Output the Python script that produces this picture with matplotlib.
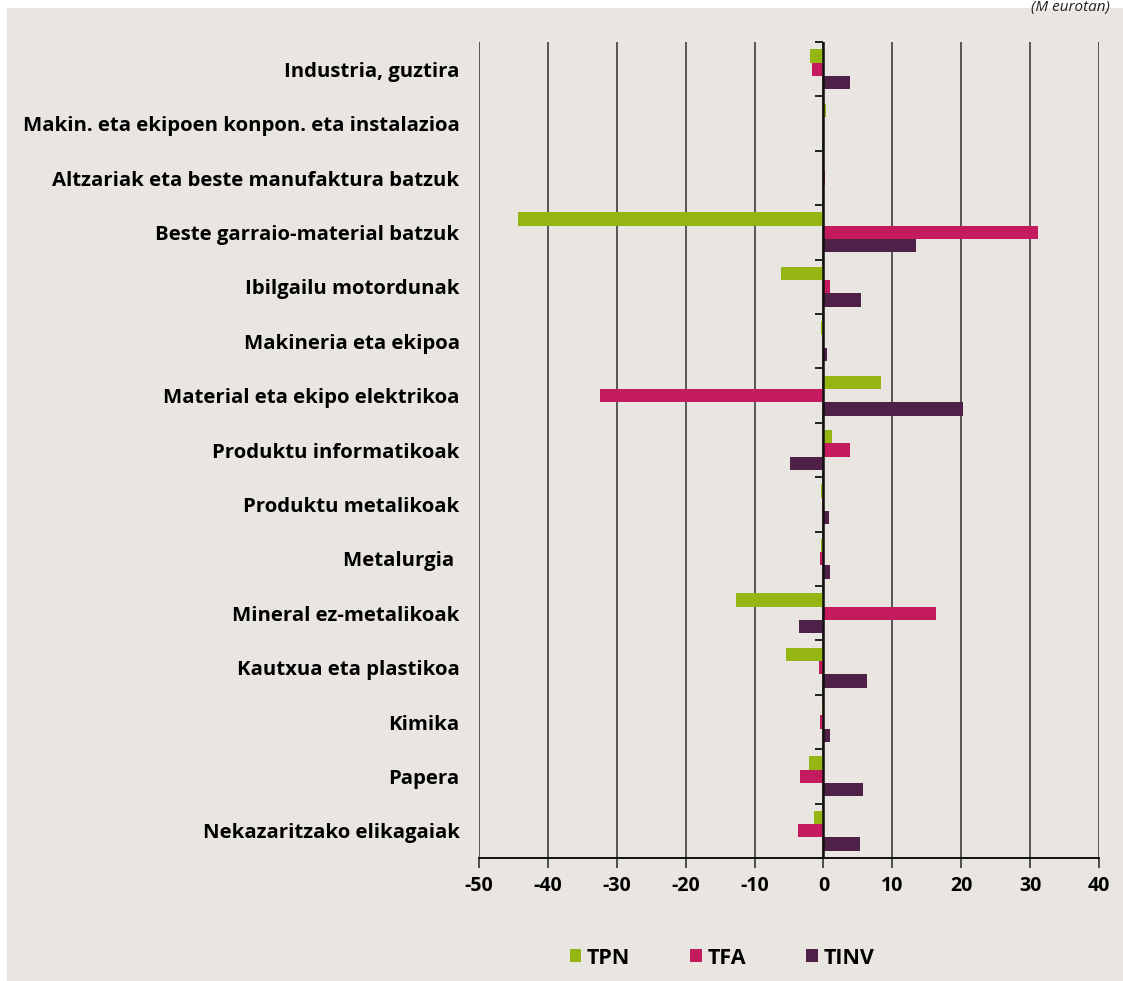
import numpy as np
import matplotlib

matplotlib.use('Agg')
import matplotlib.pyplot as plt
from matplotlib.patches import Patch

plt.rcParams['font.family'] = ['Open Sans', 'DejaVu Sans']

categories = [
    'Industria, guztira',
    'Makin. eta ekipoen konpon. eta instalazioa',
    'Altzariak eta beste manufaktura batzuk',
    'Beste garraio-material batzuk',
    'Ibilgailu motordunak',
    'Makineria eta ekipoa',
    'Material eta ekipo elektrikoa',
    'Produktu informatikoak',
    'Produktu metalikoak',
    'Metalurgia ',
    'Mineral ez-metalikoak',
    'Kautxua eta plastikoa',
    'Kimika',
    'Papera',
    'Nekazaritzako elikagaiak',
]
tpn = [-2.0, 0.3, 0.0, -44.4, -6.2, -0.3, 8.3, 1.3, -0.4, -0.35, -12.7, -5.4, -0.25, -2.1, -1.4]
tfa = [-1.6, 0.0, 0.2, 31.2, 1.0, 0.0, -32.4, 3.9, -0.2, -0.5, 16.4, -0.6, -0.5, -3.4, -3.7]
tinv = [3.9, 0.0, 0.0, 13.5, 5.4, 0.5, 20.2, -4.9, 0.8, 1.0, -3.5, 6.3, 1.0, 5.8, 5.3]
series_names = ['TPN', 'TFA', 'TINV']
colors = ['#95b512', '#c41a5e', '#4f2149']
xticks = list(range(-50, 41, 10))

bg = '#e9e6e1'
fig = plt.figure(figsize=(11.23, 9.81), dpi=100)
fig.patch.set_facecolor('white')
# beige panel behind the chart
panel = plt.Rectangle((7 / 1123, 0), 1 - 7 / 1123, 1 - 8 / 981,
                      transform=fig.transFigure, facecolor=bg,
                      edgecolor='none', zorder=-10)
fig.patches.append(panel)

ax = fig.add_axes([479 / 1123, 1 - 858 / 981, 620 / 1123, 816 / 981])
ax.set_facecolor('none')

y = np.arange(len(categories))
h = 0.245
for i, (vals, col) in enumerate(zip([tpn, tfa, tinv], colors)):
    ax.barh(y + (i - 1) * h, vals, height=h, color=col, zorder=3)

ax.set_xlim(-50, 40)
ax.set_ylim(len(categories) - 0.5, -0.5)
ax.set_xticks(xticks)
ax.set_xticklabels([str(t) for t in xticks], fontsize=14, fontweight='bold')
ax.tick_params(axis='x', length=7, width=1.2, color='#333333', pad=6)
ax.grid(axis='x', color='#555555', linewidth=1.4, zorder=1)

ax.set_yticks(y)
ax.set_yticklabels(categories, fontsize=14.7, fontweight='bold')
ax.tick_params(axis='y', length=0, pad=14)

for s in ['top', 'right', 'left']:
    ax.spines[s].set_visible(False)
ax.spines['bottom'].set_color('#111111')
ax.spines['bottom'].set_linewidth(1.4)

# vertical axis drawn at zero with ticks at category boundaries
loc = (0 - xticks[0]) / (xticks[-1] - xticks[0])
sec = ax.secondary_yaxis(loc)
sec.set_yticks(np.arange(-0.5, len(categories), 1.0))
sec.set_yticklabels([])
sec.tick_params(axis='y', direction='in', length=6, width=1.4, color='#222222')
sec.spines['left'].set_color('#111111')
sec.spines['left'].set_linewidth(1.8)
ax.axvline(0, color='#111111', linewidth=1.8, zorder=4)

handles = [Patch(facecolor=c, edgecolor='none') for c in colors]
leg = fig.legend(handles, series_names, loc='center', bbox_to_anchor=(0.643, 1 - 958 / 981),
                 ncol=3, frameon=False, handlelength=0.55, handleheight=0.55,
                 handletextpad=0.25, columnspacing=2.8,
                 prop={'size': 15.5, 'weight': 'bold'})

fig.text(1110 / 1123, 1.0, '(M eurotan)', ha='right', va='top',
         fontsize=11, style='italic', color='#222222')

fig.savefig('out.png', dpi=100, facecolor=fig.get_facecolor())
